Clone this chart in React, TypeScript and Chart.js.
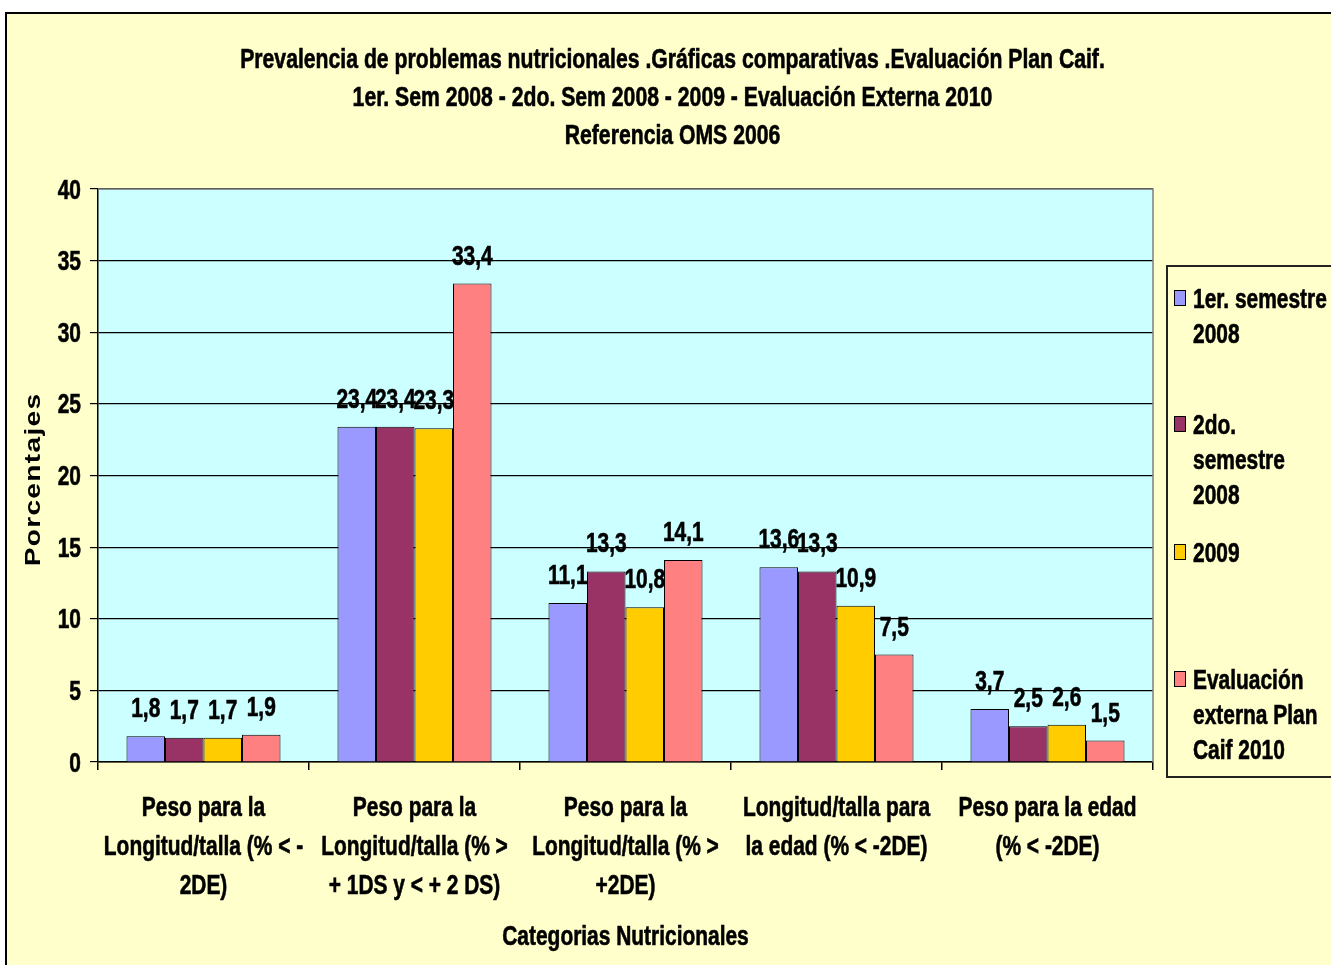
import React, { useEffect, useRef } from "react";
import { Chart, registerables } from "chart.js";
Chart.register(...registerables);

const titleLines = [
  "Prevalencia de problemas nutricionales .Gráficas comparativas .Evaluación Plan Caif.",
  "1er. Sem 2008 - 2do. Sem 2008 - 2009 - Evaluación Externa 2010",
  "Referencia OMS 2006",
];
const categories = [
  ["Peso para la", "Longitud/talla (% < -", "2DE)"],
  ["Peso para la", "Longitud/talla (% >", "+ 1DS y < + 2 DS)"],
  ["Peso para la", "Longitud/talla (% >", "+2DE)"],
  ["Longitud/talla para", "la edad (% < -2DE)"],
  ["Peso para la edad", "(% < -2DE)"],
];
const seriesNames = [
  "1er. semestre 2008",
  "2do. semestre 2008",
  "2009",
  "Evaluación externa Plan Caif 2010",
];
const legendLines = [
  ["1er. semestre", "2008"],
  ["2do.", "semestre", "2008"],
  ["2009"],
  ["Evaluación", "externa Plan", "Caif 2010"],
];
const sem1_2008 = [1.8, 23.4, 11.1, 13.6, 3.7];
const sem2_2008 = [1.7, 23.4, 13.3, 13.3, 2.5];
const year2009 = [1.7, 23.3, 10.8, 10.9, 2.6];
const ext2010 = [1.9, 33.4, 14.1, 7.5, 1.5];
const seriesValues = [sem1_2008, sem2_2008, year2009, ext2010];
const colors = ["#9999FF", "#993366", "#FFCC00", "#FF8080"];
const yMin = 0;
const yMax = 40;
const yStep = 5;
const xTitle = "Categorias Nutricionales";
const yTitle = "Porcentajes";

const FONT = "bold 27px 'Liberation Sans', Arial, sans-serif";
const SX = 0.775;

function txt(ctx: CanvasRenderingContext2D, s: string, x: number, y: number, align: CanvasTextAlign, sx = SX, font = FONT) {
  ctx.save();
  ctx.translate(x, y);
  ctx.scale(sx, 1);
  ctx.font = font;
  ctx.fillStyle = "#000";
  ctx.strokeStyle = "#000";
  ctx.lineWidth = 0.6;
  ctx.textAlign = align;
  ctx.textBaseline = "alphabetic";
  ctx.fillText(s, 0, 0);
  ctx.strokeText(s, 0, 0);
  ctx.restore();
}

const plotBg = {
  id: "plotBg",
  beforeDraw(chart: any) {
    const { ctx, chartArea: a } = chart;
    ctx.save();
    ctx.fillStyle = "#CCFFFF";
    ctx.fillRect(a.left, a.top, a.right - a.left, a.bottom - a.top);
    ctx.restore();
  },
  afterDraw(chart: any) {
    const { ctx, chartArea: a } = chart;
    ctx.save();
    ctx.strokeStyle = "#808080";
    ctx.lineWidth = 1.5;
    ctx.beginPath();
    ctx.moveTo(a.left, a.top);
    ctx.lineTo(a.right, a.top);
    ctx.lineTo(a.right, a.bottom);
    ctx.stroke();
    ctx.restore();
  },
};

const texts = {
  id: "texts",
  afterDraw(chart: any) {
    const { ctx, chartArea: a } = chart;
    const xs = chart.scales.x;
    const ys = chart.scales.y;
    // title
    const cx = 662.5;
    titleLines.forEach((t, i) => txt(ctx, t, cx, 52 + i * 38, "center", 0.785));
    // y ticks
    for (let v = yMin; v <= yMax; v += yStep) {
      const y = ys.getPixelForValue(v);
      txt(ctx, String(v), a.left - 17, y + 9.5, "right");
    }
    // x tick labels
    categories.forEach((lines, i) => {
      const x = xs.getPixelForValue(i);
      lines.forEach((l, k) => txt(ctx, l, x, a.bottom + 54 + k * 39, "center"));
    });
    // axis titles
    txt(ctx, xTitle, (a.left + a.right) / 2, a.bottom + 183, "center");
    ctx.save();
    ctx.translate(30, (a.top + a.bottom) / 2 + 4);
    ctx.rotate(-Math.PI / 2);
    ctx.scale(1.28, 1);
    ctx.font = "bold 22px 'Liberation Sans', Arial, sans-serif";
    (ctx as any).letterSpacing = "1px";
    ctx.fillStyle = "#000";
    ctx.textAlign = "center";
    ctx.textBaseline = "alphabetic";
    ctx.fillText(yTitle, 0, 0);
    ctx.restore();
    // data labels
    chart.data.datasets.forEach((ds: any, i: number) => {
      const meta = chart.getDatasetMeta(i);
      meta.data.forEach((bar: any, j: number) => {
        const v = ds.data[j];
        txt(ctx, v.toFixed(1).replace(".", ","), bar.x, bar.y - 19, "center");
      });
    });
    // legend
    const lx = a.right + 14;
    const ly = 250;
    ctx.save();
    ctx.fillStyle = "#FFFFCC";
    ctx.strokeStyle = "#222";
    ctx.lineWidth = 2;
    ctx.fillRect(lx, ly, 200, 511);
    ctx.strokeRect(lx, ly, 200, 511);
    ctx.restore();
    const firstCenters = [282, 408, 536, 663];
    legendLines.forEach((lines, i) => {
      const c = firstCenters[i];
      ctx.save();
      ctx.fillStyle = colors[i];
      ctx.strokeStyle = "#000";
      ctx.lineWidth = 1;
      ctx.fillRect(lx + 7.5, c - 7.5, 11, 15);
      ctx.strokeRect(lx + 7.5, c - 7.5, 11, 15);
      ctx.restore();
      lines.forEach((l, k) => txt(ctx, l, lx + 26, c + 9.5 + k * 35, "left"));
    });
  },
};

export default function App() {
  const ref = useRef<HTMLCanvasElement>(null);
  useEffect(() => {
    const chart = new Chart(ref.current!, {
      type: "bar",
      data: {
        labels: categories,
        datasets: seriesValues.map((vals, i) => ({
          label: seriesNames[i],
          data: vals,
          backgroundColor: colors[i],
          borderColor: "#000",
          borderWidth: 1,
          categoryPercentage: 0.73,
          barPercentage: 1,
        })),
      },
      options: {
        animation: false,
        responsive: false,
        maintainAspectRatio: false,
        layout: { padding: { left: 0, right: 178, top: 173, bottom: 0 } },
        plugins: {
          legend: { display: false },
          tooltip: { enabled: false },
          title: { display: false },
        },
        scales: {
          x: {
            grid: {
              offset: true,
              drawOnChartArea: false,
              drawTicks: true,
              tickLength: 8,
              color: "#000",
              lineWidth: 1.5,
            },
            border: { display: true, color: "#000", width: 1.5 },
            ticks: { display: false, autoSkip: false, maxRotation: 0 },
            afterFit(scale: any) {
              scale.height = 203;
            },
          },
          y: {
            min: yMin,
            max: yMax,
            ticks: { display: false, stepSize: yStep },
            grid: { color: "#000", lineWidth: 1.2, tickLength: 8, drawTicks: true },
            border: { display: true, color: "#000", width: 1.5 },
            afterFit(scale: any) {
              scale.width = 88;
            },
          },
        },
      },
      plugins: [plotBg, texts],
    } as any);
    return () => chart.destroy();
  }, []);

  return (
    <div style={{ position: "fixed", left: 0, top: 0, width: 1331, height: 965, overflow: "hidden", background: "#fff" }}>
      <div
        style={{
          position: "absolute",
          left: 5,
          top: 12,
          width: 1400,
          height: 1000,
          border: "2px solid #000",
          background: "#FFFFCC",
        }}
      />
      <canvas ref={ref} width={1321} height={949} style={{ position: "absolute", left: 10, top: 16, display: "block" }} />
    </div>
  );
}
